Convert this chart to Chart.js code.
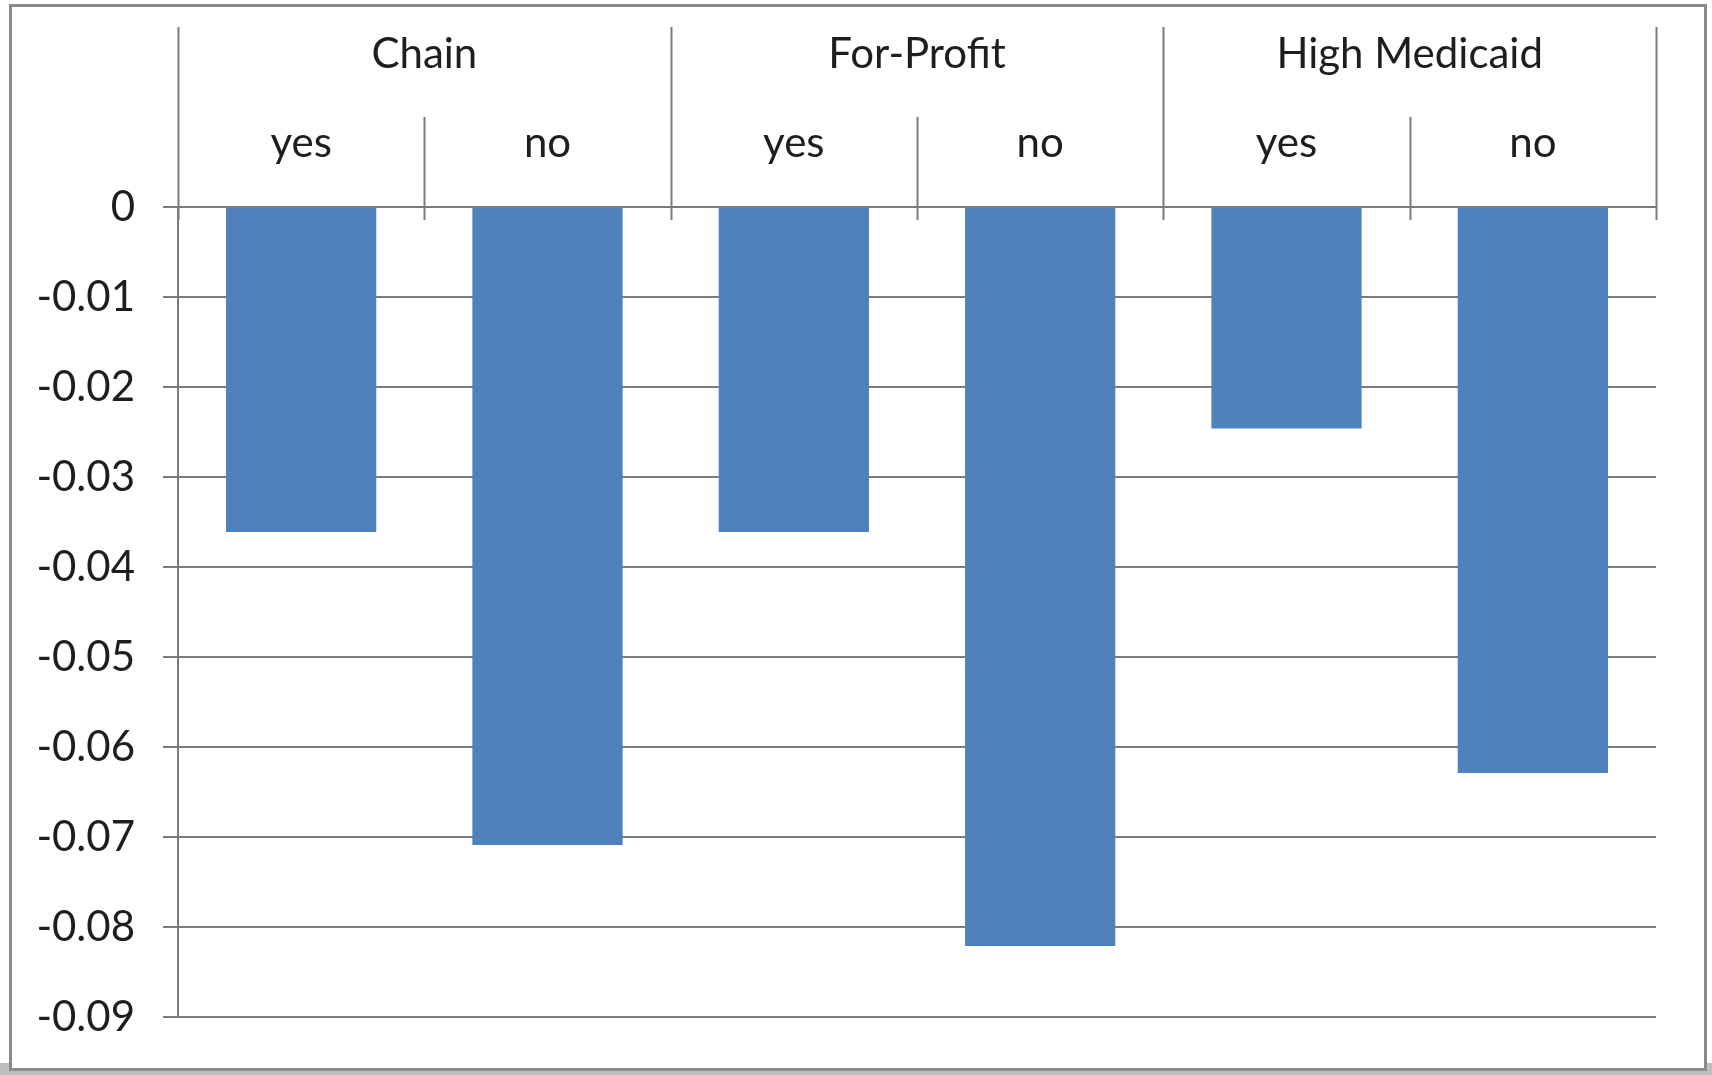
<!DOCTYPE html>
<html>
<head>
<meta charset="utf-8">
<script src="https://cdn.jsdelivr.net/npm/chart.js@4.4.1/dist/chart.umd.min.js"></script>
<style>
  html, body { margin: 0; padding: 0; background: #fff; }
  canvas { display: block; }
</style>
</head>
<body>
<canvas id="chart" width="1712" height="1075"></canvas>
<script>
// Facility groups and their yes/no split
const groups = ['Chain', 'For-Profit', 'High Medicaid'];
const subLabels = ['yes', 'no', 'yes', 'no', 'yes', 'no'];
const values = [-0.0361, -0.0709, -0.0361, -0.0821, -0.0246, -0.0629];

// Value axis ticks
const yTickValues = [0, -0.01, -0.02, -0.03, -0.04, -0.05, -0.06, -0.07, -0.08, -0.09];
const yTickLabels = ['0', '-0.01', '-0.02', '-0.03', '-0.04', '-0.05', '-0.06', '-0.07', '-0.08', '-0.09'];

const LINE = '#7a7a7a';
const TEXT = '#1e1e1e';
const FONT = { family: 'Lato, "Open Sans", sans-serif', size: 42 };

// Window-like frame around the chart
const framePlugin = {
  id: 'frame',
  beforeDraw(chart) {
    const ctx = chart.ctx;
    ctx.save();
    ctx.fillStyle = '#ffffff';
    ctx.fillRect(0, 0, chart.width, chart.height);
    ctx.fillStyle = '#bdbdbd';
    ctx.fillRect(0, 1063, chart.width, chart.height - 1063);
    ctx.fillStyle = '#ffffff';
    ctx.fillRect(10, 5, 1696, 1064);
    ctx.strokeStyle = '#8a8a8a';
    ctx.lineWidth = 3;
    ctx.strokeRect(10.5, 5.5, 1695, 1064);
    ctx.restore();
  }
};

// Divider lines between groups and between yes/no categories
const dividerPlugin = {
  id: 'dividers',
  afterDraw(chart) {
    const ctx = chart.ctx;
    const sub = chart.scales.x;
    const grp = chart.scales.xg;
    const bottom = chart.chartArea.top + 13;
    const perGroup = subLabels.length / groups.length;
    ctx.save();
    ctx.strokeStyle = LINE;
    ctx.lineWidth = 2;
    const line = (x, y0, y1) => {
      const px = Math.round(x) + 0.5;
      ctx.beginPath();
      ctx.moveTo(px, y0);
      ctx.lineTo(px, y1);
      ctx.stroke();
    };
    // group edges
    line(grp.left, grp.top, bottom);
    line(grp.right, grp.top, bottom);
    for (let i = 1; i < groups.length; i++) {
      const x = (grp.getPixelForValue(i - 1) + grp.getPixelForValue(i)) / 2;
      line(x, grp.top, bottom);
    }
    // yes/no dividers inside each group
    for (let i = 1; i < subLabels.length; i++) {
      if (i % perGroup === 0) continue;
      const x = (sub.getPixelForValue(i - 1) + sub.getPixelForValue(i)) / 2;
      line(x, sub.top, bottom);
    }
    ctx.restore();
  }
};

new Chart(document.getElementById('chart'), {
  type: 'bar',
  data: {
    labels: subLabels,
    datasets: [{
      data: values,
      backgroundColor: '#4F81BD',
      borderWidth: 0,
      barPercentage: 0.61,
      categoryPercentage: 1.0,
      xAxisID: 'x',
      yAxisID: 'y'
    }]
  },
  options: {
    responsive: false,
    animation: false,
    devicePixelRatio: 1,
    layout: { padding: { top: 27, right: 56, bottom: 58, left: 0 } },
    plugins: {
      legend: { display: false },
      tooltip: { enabled: false }
    },
    scales: {
      x: {
        type: 'category',
        position: 'top',
        weight: 0,
        offset: true,
        grid: { display: false, drawTicks: false },
        border: { display: false },
        ticks: { font: FONT, color: TEXT, padding: 38, maxRotation: 0, autoSkip: false },
        afterFit(s) { s.height = 90; }
      },
      xg: {
        type: 'category',
        position: 'top',
        weight: 1,
        labels: groups,
        offset: true,
        grid: { display: false, drawTicks: false },
        border: { display: false },
        ticks: { font: FONT, color: TEXT, padding: 37, maxRotation: 0, autoSkip: false },
        afterFit(s) { s.height = 90; }
      },
      y: {
        type: 'linear',
        position: 'left',
        min: -0.09,
        max: 0,
        afterBuildTicks(s) { s.ticks = yTickValues.map(v => ({ value: v })); },
        grid: { color: LINE, lineWidth: 2, tickLength: 15, drawTicks: true },
        border: { display: true, color: LINE, width: 2 },
        ticks: {
          font: FONT,
          color: TEXT,
          padding: 28,
          autoSkip: false,
          callback: (v, i) => yTickLabels[i]
        },
        afterFit(s) { s.width = 178; }
      }
    }
  },
  plugins: [framePlugin, dividerPlugin]
});
</script>
</body>
</html>
